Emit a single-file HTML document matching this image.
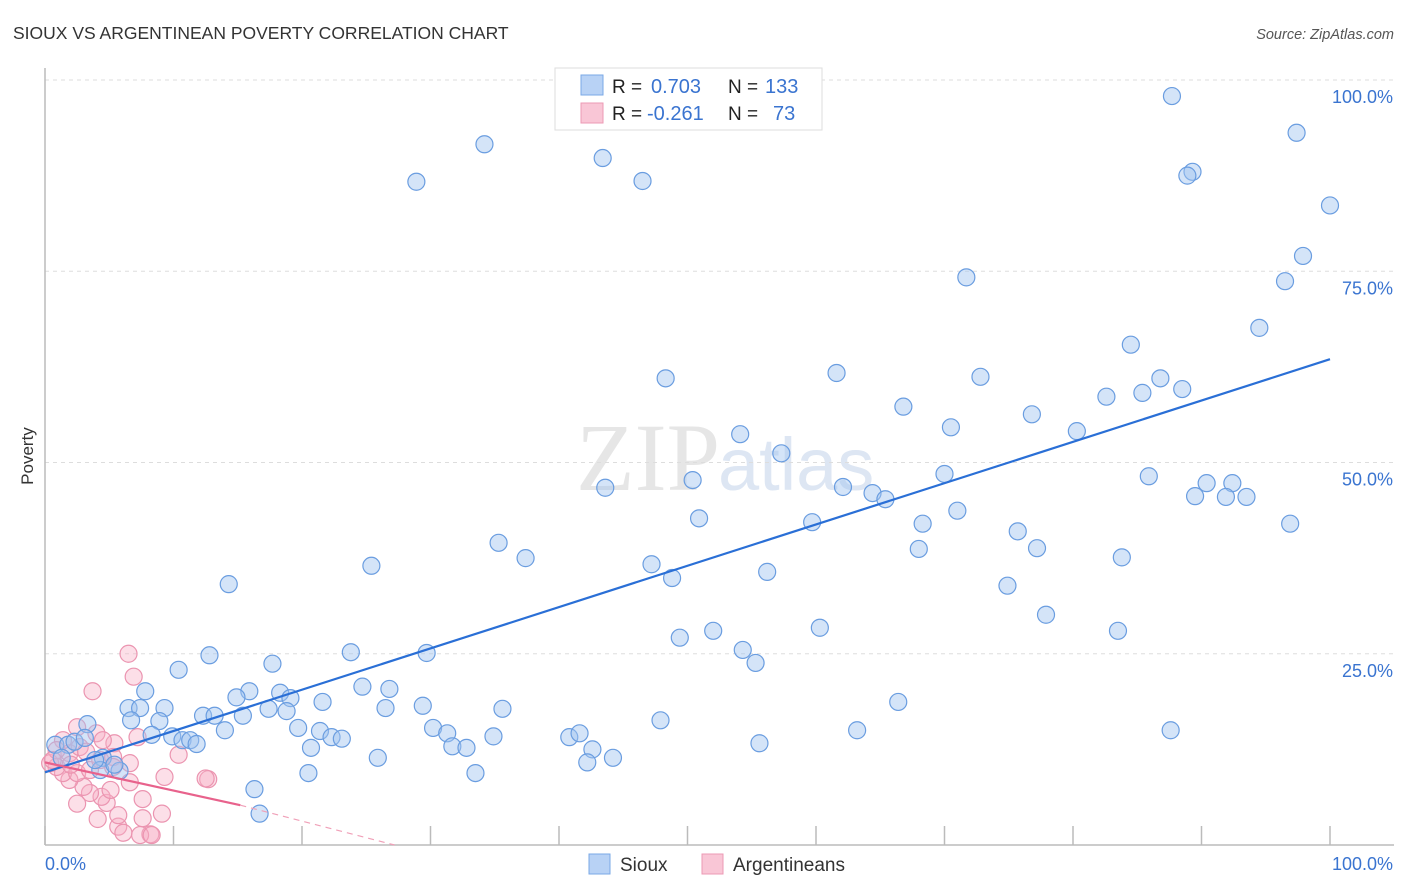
<!DOCTYPE html>
<html><head><meta charset="utf-8"><style>
body{margin:0;background:#fff;font-family:"Liberation Sans",sans-serif;}
svg{display:block}
</style></head><body>
<svg id="chart" width="1406" height="892">
<text x="13" y="39" font-size="17.5" fill="#333">SIOUX VS ARGENTINEAN POVERTY CORRELATION CHART</text>
<text x="1394" y="39" font-size="14.5" fill="#555" font-style="italic" text-anchor="end">Source: ZipAtlas.com</text>
<text x="33" y="456" font-size="17" fill="#333" transform="rotate(-90 33 456)" text-anchor="middle">Poverty</text>
<text x="720" y="490" font-size="96" fill="#e6e6e6" text-anchor="end" font-family="Liberation Serif,serif">ZIP</text>
<text x="718" y="490" font-size="74" fill="#dde6f3">atlas</text>
<g id="grid"></g>
<g id="pts"></g>
<g id="lines"></g>
<g>
<rect x="555" y="68" width="267" height="62" fill="#fff" stroke="#ddd"/>
<rect x="581" y="75" width="22" height="20" fill="#b8d2f5" stroke="#7aa8e6"/>
<rect x="581" y="103" width="22" height="20" fill="#f9c6d6" stroke="#ec9ab4"/>
<text x="612" y="93" font-size="19" fill="#222">R = </text><text x="651" y="93" font-size="20" fill="#3a74d0">0.703</text>
<text x="728" y="93" font-size="19" fill="#222">N = </text><text x="765" y="93" font-size="20" fill="#3a74d0">133</text>
<text x="612" y="120" font-size="19" fill="#222">R = </text><text x="647" y="120" font-size="20" fill="#3a74d0">-0.261</text>
<text x="728" y="120" font-size="19" fill="#222">N = </text><text x="773" y="120" font-size="20" fill="#3a74d0">73</text>
</g>
<g>
<rect x="589" y="854" width="21" height="20" fill="#b8d2f5" stroke="#7aa8e6"/>
<text x="620" y="871" font-size="19" fill="#333">Sioux</text>
<rect x="702" y="854" width="21" height="20" fill="#f9c6d6" stroke="#ec9ab4"/>
<text x="733" y="871" font-size="19" fill="#333">Argentineans</text>
</g>
</svg>
<script>
const blueX=[87.7,34.2,43.4,28.9,46.5,97.4,89.3,88.9,100,97.9,71.7,96.5,94.5,84.5,61.6,48.3,72.8,86.8,82.6,85.4,88.5,66.8,76.8,70.5,54.1,80.3,57.3,70.0,50.4,85.9,43.6,62.1,64.4,65.4,90.4,92.4,89.5,91.9,93.5,50.9,59.7,68.3,71.0,96.9,75.7,35.3,68.0,77.2,37.4,83.8,25.4,47.2,48.8,56.2,14.3,74.9,77.9,52.0,60.3,83.5,49.4,54.3,55.3,12.8,23.8,29.7,10.4,17.7,24.7,26.8,7.8,15.9,14.9,18.3,19.1,21.6,66.4,6.5,7.4,9.3,17.4,18.8,26.5,29.4,35.6,3.3,6.7,8.9,12.3,13.2,15.4,47.9,14.0,19.7,21.4,30.2,31.3,63.2,87.6,8.3,9.9,10.7,11.3,11.8,22.3,23.1,34.9,40.8,41.6,55.6,20.7,31.7,32.8,42.6,25.9,42.2,44.2,4.5,5.8,20.5,33.5,16.3,16.7,0.8,1.8,2.3,3.1,1.3,4.3,5.4,3.9];
const blueY=[97.9,91.6,89.8,86.7,86.8,93.1,88.0,87.5,83.6,77.0,74.2,73.7,67.6,65.4,61.7,61.0,61.2,61.0,58.6,59.1,59.6,57.3,56.3,54.6,53.7,54.1,51.2,48.5,47.7,48.2,46.7,46.8,46.0,45.2,47.3,47.3,45.6,45.5,45.5,42.7,42.2,42.0,43.7,42.0,41.0,39.5,38.7,38.8,37.5,37.6,36.5,36.7,34.9,35.7,34.1,33.9,30.1,28.0,28.4,28.0,27.1,25.5,23.8,24.8,25.2,25.1,22.9,23.7,20.7,20.4,20.1,20.1,19.3,19.9,19.2,18.7,18.7,17.9,17.9,17.9,17.8,17.5,17.9,18.2,17.8,15.8,16.3,16.2,16.9,16.9,16.9,16.3,15.0,15.3,14.9,15.3,14.6,15.0,15.0,14.4,14.2,13.7,13.7,13.2,14.1,13.9,14.2,14.1,14.6,13.3,12.7,12.9,12.7,12.5,11.4,10.8,11.4,11.4,9.7,9.4,9.4,7.3,4.1,13.1,13.1,13.5,14.0,11.4,9.8,10.5,11.1];
const pinkX=[6.5,6.9,3.7,12.7,9.3,10.4,7.2,5.4,7.6,9.1,7.6,8.2,7.4,5.7,6.1,5.7,4.1,2.5,4.8,4.4,5.1,3.5,3.0,1.9,1.4,0.9,0.4,2.5,3.5,4.3,5.3,1.9,2.7,1.4,2.5,4.0,4.5,0.9,0.6,5.3,6.6,8.3,6.6,12.5,2.0,3.2];
const pinkY=[25.0,22.0,20.1,8.6,8.9,11.8,14.1,13.3,6.0,4.1,3.5,1.4,1.3,2.4,1.6,3.9,3.4,5.4,5.5,6.3,7.2,6.8,7.6,8.5,9.4,10.2,10.7,9.4,9.8,11.1,11.5,12.0,12.8,13.7,15.4,14.6,13.7,12.4,11.1,10.2,10.7,1.3,8.2,8.7,10.5,12.2];
const blueTrend=[[0,9.5],[100,63.5]];
const pinkTrend=[[0,10.8],[15.2,5.2]];
const pinkTrendExt=[[15.2,5.2],[27.2,0]];
const yTicks=[25,50,75,100];
const yTickLabels=["25.0%","50.0%","75.0%","100.0%"];
const xTicks=[0,10,20,30,40,50,60,70,80,90,100];

const NS="http://www.w3.org/2000/svg";
const X=v=>45+v*12.85, Y=v=>845-v*7.65;
function mk(tag,attrs,parent){const e=document.createElementNS(NS,tag);for(const k in attrs)e.setAttribute(k,attrs[k]);parent.appendChild(e);return e;}
const grid=document.getElementById('grid'),pts=document.getElementById('pts'),lines=document.getElementById('lines');
yTicks.forEach((t,i)=>{
 const l=mk('line',{x1:45,x2:1394,y1:Y(t),y2:Y(t),stroke:'#ddd','stroke-dasharray':'4,4'},grid);
 
 
 const tx=mk('text',{x:1393,y:Y(t)+23,'font-size':18,fill:'#3a74d0','text-anchor':'end'},grid);
 tx.textContent=yTickLabels[i];
 
 
});
const ax=mk('line',{x1:45,x2:1394,y1:845,y2:845,stroke:'#bbb','stroke-width':1.5},grid);


const ay=mk('line',{x1:45,x2:45,y1:68,y2:845,stroke:'#bbb','stroke-width':1.5},grid);


xTicks.forEach(t=>{
 const l=mk('line',{x1:X(t),x2:X(t),y1:826,y2:845,stroke:'#bbb','stroke-width':1.5},grid);
 
 
});
const xl0=mk('text',{x:45,y:870,'font-size':18,fill:'#3a74d0'},grid);xl0.textContent='0.0%';


const xl1=mk('text',{x:1393,y:870,'font-size':18,fill:'#3a74d0','text-anchor':'end'},grid);xl1.textContent='100.0%';


pinkX.forEach((v,i)=>{
 const c=mk('circle',{cx:X(v),cy:Y(pinkY[i]),r:8.5,fill:'rgba(248,175,198,0.4)',stroke:'#eb94b0','stroke-width':1.2},pts);
 
 
});
blueX.forEach((v,i)=>{
 const c=mk('circle',{cx:X(v),cy:Y(blueY[i]),r:8.5,fill:'rgba(160,195,240,0.45)',stroke:'#6a9de0','stroke-width':1.2},pts);
 
 
});
const bl=mk('line',{x1:X(blueTrend[0][0]),y1:Y(blueTrend[0][1]),x2:X(blueTrend[1][0]),y2:Y(blueTrend[1][1]),stroke:'#2a6fd6','stroke-width':2.2},lines);


const pl=mk('line',{x1:X(pinkTrend[0][0]),y1:Y(pinkTrend[0][1]),x2:X(pinkTrend[1][0]),y2:Y(pinkTrend[1][1]),stroke:'#e8628c','stroke-width':2.2},lines);


const pd=mk('line',{x1:X(pinkTrendExt[0][0]),y1:Y(pinkTrendExt[0][1]),x2:X(pinkTrendExt[1][0]),y2:Y(pinkTrendExt[1][1]),stroke:'#f0a0b8','stroke-width':1.2,'stroke-dasharray':'6,5'},lines);


</script>
</body></html>
